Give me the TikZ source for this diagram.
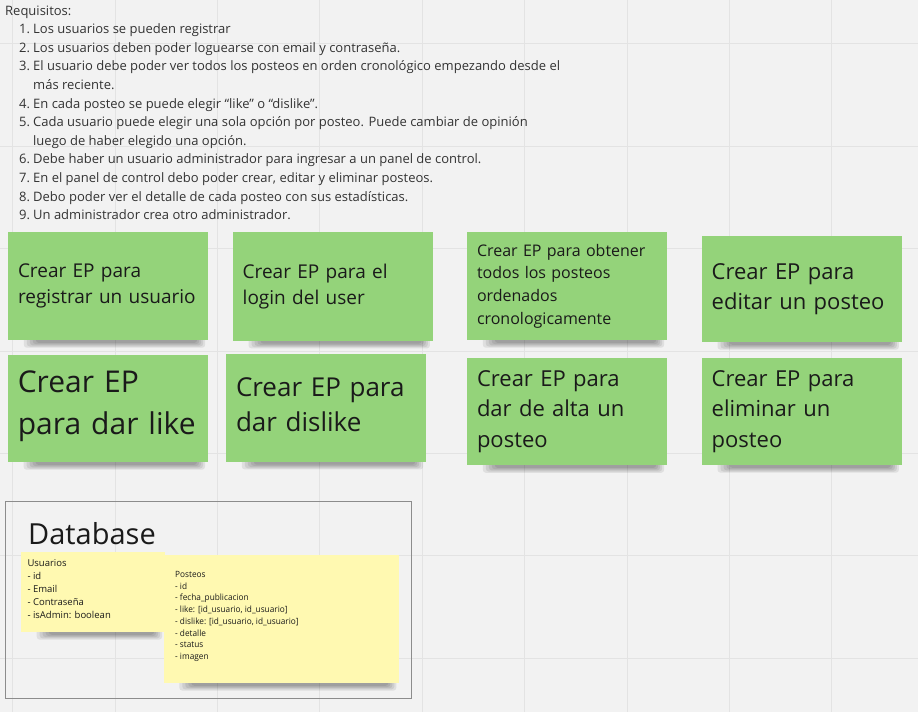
\documentclass[tikz,border=0pt]{standalone}
\usepackage{fontspec}
\setmainfont{Open Sans}
\newfontfamily\condfont[FakeStretch=0.96]{Open Sans}
\usetikzlibrary{calc}
\pgfdeclarelayer{bg}
\pgfsetlayers{bg,main}
\definecolor{board}{HTML}{F2F2F2}
\definecolor{gridc}{HTML}{E3E3E3}
\definecolor{greenn}{RGB}{148,211,122}
\definecolor{yellown}{HTML}{FFF9B1}
\definecolor{framec}{HTML}{8C8C8C}
\definecolor{reqc}{HTML}{333333}
\definecolor{notetext}{HTML}{1A1A1A}
\newcommand\fsz[2]{\fontsize{#1pt}{#2pt}\selectfont}
\newcommand\shd[1]{%
  \foreach \i in {0,...,4}{%
    \fill[black,opacity=.08,rounded corners=3pt]
      ($(#1.south west)+(16+3*\i,-3)$) rectangle ($(#1.south east)+(-3-2*\i,7.5-1.2*\i)$);}}
\begin{document}
\begin{tikzpicture}[x=1pt,y=-1pt,
  gnote/.style={rectangle,fill=greenn,inner xsep=10pt,inner ysep=0pt,
    text width=180pt,align=left,text=notetext},
  ynote/.style={rectangle,fill=yellown,anchor=north west,inner sep=0pt},
  ytext/.style={anchor=north west,inner sep=0pt,align=left,text=notetext},
  req/.style={anchor=base west,inner sep=0pt,text=reqc,font=\fsz{13}{16}},
]
\useasboundingbox (0,0) rectangle (918,712);

% requirements
\node[req] (r0) at (5,15) {Requisitos:};
\node[req] (r1n) at (19,33.6) {1.};
\node[req] (r1) at (33,33.6) {Los usuarios se pueden registrar};
\node[req] (r2n) at (19,52.2) {2.};
\node[req] (r2) at (33,52.2) {Los usuarios deben poder loguearse con email y contraseña.};
\node[req] (r3n) at (19,70.8) {3.};
\node[req] (r3) at (33,70.8) {El usuario debe poder ver todos los posteos en orden cronológico empezando desde el};
\node[req] (r3b) at (33,89.4) {más reciente.};
\node[req] (r4n) at (19,108) {4.};
\node[req] (r4) at (33,108) {En cada posteo se puede elegir “like” o “dislike”.};
\node[req] (r5n) at (19,126.6) {5.};
\node[req] (r5) at (33,126.6) {Cada usuario puede elegir una sola opción por posteo. Puede cambiar de opinión};
\node[req] (r5b) at (33,145.2) {luego de haber elegido una opción.};
\node[req] (r6n) at (19,163.8) {6.};
\node[req] (r6) at (33,163.8) {Debe haber un usuario administrador para ingresar a un panel de control.};
\node[req] (r7n) at (19,182.4) {7.};
\node[req] (r7) at (33,182.4) {En el panel de control debo poder crear, editar y eliminar posteos.};
\node[req] (r8n) at (19,201) {8.};
\node[req] (r8) at (33,201) {Debo poder ver el detalle de cada posteo con sus estadísticas.};
\node[req] (r9n) at (19,219.6) {9.};
\node[req] (r9) at (33,219.6) {Un administrador crea otro administrador.};

% green notes
\node[gnote,minimum width=200pt,minimum height=108pt,font=\fsz{19}{26}] (n1) at (108,286) {Crear EP para\\registrar un usuario};
\node[gnote,minimum width=200pt,minimum height=109pt,font=\fsz{19}{26}] (n2) at (332.7,286.2) {Crear EP para el\\login del user};
\node[gnote,minimum width=200pt,minimum height=108pt,font=\fsz{16}{22.7}] (n3) at (567,286) {Crear EP para obtener\\todos los posteos\\ordenados\\cronologicamente};
\node[gnote,minimum width=200pt,minimum height=106pt,font=\fsz{22}{30}] (n4) at (801.7,289) {Crear EP para\\editar un posteo};
\node[gnote,minimum width=199.5pt,minimum height=107pt,font=\fsz{30}{42.5}] (n5) at (107.8,408.5) {Crear EP\\para dar like\par\vspace{5pt}};
\node[gnote,minimum width=200pt,minimum height=107.7pt,font=\fsz{26}{35}] (n6) at (326,407.9) {Crear EP para\\dar dislike\par\vspace{7pt}};
\node[gnote,minimum width=200pt,minimum height=107.3pt,font=\fsz{22}{30.5}] (n7) at (567,411.4) {Crear EP para\\dar de alta un\\posteo};
\node[gnote,minimum width=200pt,minimum height=107pt,font=\fsz{22}{30.5}] (n8) at (801.7,411.5) {Crear EP para\\eliminar un\\posteo};

% database frame
\node[draw=framec,line width=1.1pt,anchor=north west,inner sep=0pt,
  minimum width=405.5pt,minimum height=197pt] (db) at (5,501) {};
\node[anchor=base west,inner sep=0pt,font=\fsz{29}{34},text=notetext] (dbt) at (28,544.3) {Database};

% yellow notes
\node[ynote,minimum width=144pt,minimum height=80pt] (usr) at (20.7,551.7) {};
\node[ytext,font=\fsz{9.5}{13}] (usrt) at (27.3,559.6) {Usuarios\\- id\\- Email\\- Contraseña\\- isAdmin: boolean};
\node[ynote,minimum width=235.7pt,minimum height=127.7pt] (pst) at (163.3,555) {};
\node[ytext,font=\condfont\fsz{8.6}{11.7}] (pstt) at (175,571.2) {Posteos\\- id\\- fecha\_publicacion\\- like: [id\_usuario, id\_usuario]\\- dislike: [id\_usuario, id\_usuario]\\- detalle\\- status\\- imagen};

\begin{pgfonlayer}{bg}
  \fill[board] (0,0) rectangle (918,712);
  \foreach \k in {0,...,8} \draw[gridc,line width=0.8pt] (12.5+102.4*\k,0) -- (12.5+102.4*\k,712);
  \foreach \k in {0,...,6} \draw[gridc,line width=0.8pt] (0,43.7+102.4*\k) -- (918,43.7+102.4*\k);
  \shd{n1}\shd{n2}\shd{n3}\shd{n4}\shd{n5}\shd{n6}\shd{n7}\shd{n8}
  \shd{usr}\shd{pst}
\end{pgfonlayer}
\end{tikzpicture}
\end{document}
